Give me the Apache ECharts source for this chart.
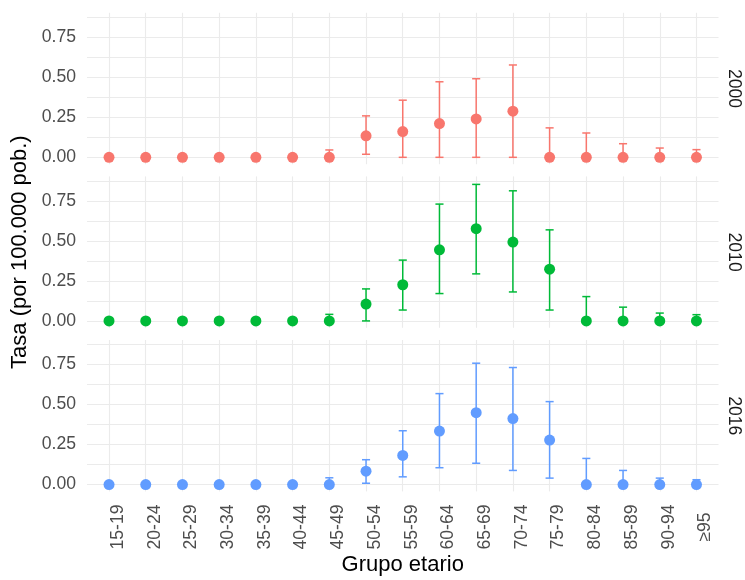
<!DOCTYPE html>
<html>
<head>
<meta charset="utf-8">
<script src="https://cdn.jsdelivr.net/npm/echarts@6/dist/echarts.min.js"></script>
<style>
  html, body { margin: 0; padding: 0; background: #ffffff; }
  #chart { width: 745px; height: 580px; }
</style>
</head>
<body>
<div id="chart"></div>
<script>
// Age groups on the x axis
const categories = ['15-19', '20-24', '25-29', '30-34', '35-39', '40-44', '45-49', '50-54',
  '55-59', '60-64', '65-69', '70-74', '75-79', '80-84', '85-89', '90-94', '\u226595'];

// Panel (year) labels
const years = ['2000', '2010', '2016'];

// Rates per 100,000 with 95% interval bounds, one set per year
const rate2000 = [0, 0, 0, 0, 0, 0, 0, 0.134, 0.161, 0.211, 0.240, 0.288, 0, 0, 0, 0, 0];
const low2000  = [0, 0, 0, 0, 0, 0, 0, 0.019, 0, 0, 0, 0, 0, 0, 0, 0, 0];
const up2000   = [0, 0, 0, 0, 0, 0, 0.046, 0.259, 0.357, 0.472, 0.491, 0.577, 0.184, 0.152, 0.085, 0.058, 0.048];

const rate2010 = [0, 0, 0, 0, 0, 0, 0, 0.105, 0.226, 0.444, 0.576, 0.493, 0.323, 0, 0, 0, 0];
const low2010  = [0, 0, 0, 0, 0, 0, 0, 0, 0.068, 0.171, 0.294, 0.181, 0.068, 0, 0, 0, 0];
const up2010   = [0, 0, 0, 0, 0, 0, 0.041, 0.200, 0.380, 0.730, 0.853, 0.813, 0.569, 0.152, 0.086, 0.049, 0.039];

const rate2016 = [0, 0, 0, 0, 0, 0, 0, 0.083, 0.182, 0.334, 0.449, 0.412, 0.278, 0, 0, 0, 0];
const low2016  = [0, 0, 0, 0, 0, 0, 0, 0.008, 0.048, 0.105, 0.133, 0.088, 0.040, 0, 0, 0, 0];
const up2016   = [0, 0, 0, 0, 0, 0, 0.042, 0.155, 0.336, 0.568, 0.758, 0.731, 0.518, 0.163, 0.088, 0.040, 0.030];

// Y tick labels
const yTickLabels = ['0.00', '0.25', '0.50', '0.75'];

const rates = [rate2000, rate2010, rate2016];
const lows = [low2000, low2010, low2016];
const ups = [up2000, up2010, up2016];
const colors = ['#F8766D', '#00BA38', '#619CFF'];

const FONT = '"Liberation Sans", Arial, sans-serif';
const GRID_COLOR = '#EBEBEB';
const panelLeft = 87, panelWidth = 631.5, panelHeight = 151.4;
const panelTops = [12.8, 176.4, 340.0];
const yMin = -0.043, yMax = 0.903;
const xMin = -0.6, xMax = categories.length - 1 + 0.6;
const capWidth = 0.22;

const grids = [], xAxes = [], yAxes = [], series = [], graphics = [];

function isMultiple(v, step) {
  const r = v / step;
  return Math.abs(r - Math.round(r)) < 1e-6;
}

function errorBarRenderer(color) {
  return function (params, api) {
    const i = api.value(0);
    const top = api.coord([i, api.value(2)]);
    const bot = api.coord([i, api.value(1)]);
    const half = api.size([capWidth, 0])[0] / 2;
    const style = { stroke: color, lineWidth: 1.5, fill: null };
    return {
      type: 'group',
      children: [
        { type: 'line', shape: { x1: top[0], y1: top[1], x2: bot[0], y2: bot[1] }, style: style },
        { type: 'line', shape: { x1: top[0] - half, y1: top[1], x2: top[0] + half, y2: top[1] }, style: style },
        { type: 'line', shape: { x1: bot[0] - half, y1: bot[1], x2: bot[0] + half, y2: bot[1] }, style: style }
      ]
    };
  };
}

years.forEach(function (year, k) {
  grids.push({
    left: panelLeft, top: panelTops[k], width: panelWidth, height: panelHeight,
    containLabel: false, outerBoundsMode: 'none'
  });
  const last = k === years.length - 1;
  xAxes.push({
    type: 'value', gridIndex: k, min: xMin, max: xMax,
    splitNumber: 16, minInterval: 1, maxInterval: 1,
    axisLine: { show: false }, axisTick: { show: false },
    splitLine: { show: true, showMinLine: false, showMaxLine: false,
      lineStyle: { color: GRID_COLOR, width: 1.1 } },
    axisLabel: {
      show: last, rotate: 90, align: 'center', verticalAlign: 'top', margin: 35.6,
      color: '#4D4D4D', fontFamily: FONT, fontSize: 17.6,
      showMinLabel: false, showMaxLabel: false,
      formatter: function (v) {
        const i = Math.round(v);
        return isMultiple(v, 1) && categories[i] !== undefined ? categories[i] : '';
      }
    }
  });
  yAxes.push({
    type: 'value', gridIndex: k, min: yMin, max: yMax,
    splitNumber: 8, minInterval: 0.125, maxInterval: 0.125,
    axisLine: { show: false }, axisTick: { show: false },
    splitLine: { show: true, showMinLine: false, showMaxLine: false,
      lineStyle: { color: GRID_COLOR, width: 1.1 } },
    axisLabel: {
      margin: 11, color: '#4D4D4D', fontFamily: FONT, fontSize: 17.6,
      showMinLabel: false, showMaxLabel: false,
      formatter: function (v) {
        if (!isMultiple(v, 0.25) || v < 0) return '';
        const idx = Math.round(v / 0.25);
        return yTickLabels[idx] !== undefined ? yTickLabels[idx] : '';
      }
    }
  });
  series.push({
    type: 'custom', name: year + ' IC', xAxisIndex: k, yAxisIndex: k,
    renderItem: errorBarRenderer(colors[k]),
    encode: { x: 0, y: [1, 2] },
    data: categories.map(function (c, i) { return [i, lows[k][i], ups[k][i]]; }),
    z: 2, silent: true
  });
  series.push({
    type: 'scatter', name: year, xAxisIndex: k, yAxisIndex: k,
    symbol: 'circle', symbolSize: 11,
    itemStyle: { color: colors[k], opacity: 1 },
    data: categories.map(function (c, i) { return [i, rates[k][i]]; }),
    z: 3, silent: true
  });
  // facet strip label on the right
  graphics.push({
    type: 'text', x: 734, y: panelTops[k] + panelHeight / 2, rotation: -Math.PI / 2,
    style: { text: year, font: '17.6px ' + FONT, fill: '#1A1A1A',
      textAlign: 'center', textVerticalAlign: 'middle' }
  });
});

// Axis titles
graphics.push({
  type: 'text', x: 19.5, y: panelTops[1] + panelHeight / 2, rotation: Math.PI / 2,
  style: { text: 'Tasa (por 100.000 pob.)', font: '22px ' + FONT, fill: '#000000',
    textAlign: 'center', textVerticalAlign: 'middle' }
});
graphics.push({
  type: 'text', x: panelLeft + panelWidth / 2, y: 565,
  style: { text: 'Grupo etario', font: '22px ' + FONT, fill: '#000000',
    textAlign: 'center', textVerticalAlign: 'middle' }
});

const chart = echarts.init(document.getElementById('chart'), null, { renderer: 'canvas' });
chart.setOption({
  animation: false,
  backgroundColor: '#ffffff',
  grid: grids,
  xAxis: xAxes,
  yAxis: yAxes,
  series: series,
  graphic: graphics
});
</script>
</body>
</html>
